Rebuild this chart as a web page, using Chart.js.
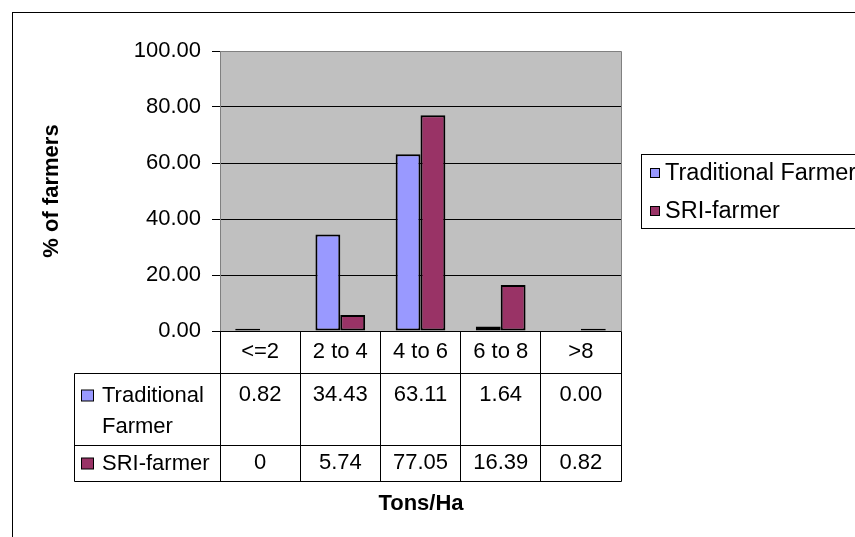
<!DOCTYPE html>
<html>
<head>
<meta charset="utf-8">
<script src="https://cdn.jsdelivr.net/npm/chart.js@4.4.1/dist/chart.umd.min.js"></script>
<style>
  html, body { margin: 0; padding: 0; background: #fff; }
  #wrap { width: 855px; height: 537px; position: relative; }
</style>
</head>
<body>
<div id="wrap"><canvas id="c" width="855" height="537"></canvas></div>
<script>
// Yield classes (tons per hectare) and share of farmers in each class
const categories = ['<=2', '2 to 4', '4 to 6', '6 to 8', '>8'];
const traditional = [0.82, 34.43, 63.11, 1.64, 0.00];
const sri = [0, 5.74, 77.05, 16.39, 0.82];
const seriesNames = ['Traditional Farmer', 'SRI-farmer'];
const yMin = 0, yMax = 100, yStep = 20;
const yTitle = '% of farmers';
const xTitle = 'Tons/Ha';

const FONT = '"Liberation Sans", Arial, sans-serif';
const colors = ['#9999FF', '#993366'];

// number formats used in the data table rows
const formats = [v => v.toFixed(2), v => String(v)];

const frame = {
  id: 'frame',
  beforeDraw(chart) {
    const ctx = chart.ctx, a = chart.chartArea;
    ctx.save();
    ctx.fillStyle = '#fff';
    ctx.fillRect(0, 0, chart.width, chart.height);
    // outer chart border
    ctx.strokeStyle = '#000';
    ctx.lineWidth = 1;
    ctx.strokeRect(12.5, 12.5, 1000, 1000);
    // plot background
    ctx.fillStyle = '#C0C0C0';
    ctx.fillRect(a.left, a.top, a.right - a.left, a.bottom - a.top);
    ctx.restore();
  },
  beforeDatasetsDraw(chart) {
    const ctx = chart.ctx, a = chart.chartArea;
    ctx.save();
    ctx.strokeStyle = '#808080';
    ctx.lineWidth = 1;
    ctx.beginPath();
    ctx.moveTo(a.left, Math.floor(a.top) + 0.5);
    ctx.lineTo(Math.floor(a.right) + 0.5, Math.floor(a.top) + 0.5);
    ctx.lineTo(Math.floor(a.right) + 0.5, a.bottom);
    ctx.stroke();
    ctx.restore();
  },
  afterDraw(chart) {
    const ctx = chart.ctx, a = chart.chartArea, xs = chart.scales.x;
    const n = categories.length;
    const cw = (xs.right - xs.left) / n;
    const tableLeft = 74.5;
    const top = Math.floor(a.bottom) + 0.5;
    const rowTops = [top, 373.5, 445.5];
    const bottom = 481.5;
    const series = [traditional, sri];

    ctx.save();
    ctx.strokeStyle = '#000';
    ctx.lineWidth = 1;
    ctx.beginPath();
    // horizontal rules
    ctx.moveTo(a.left, top); ctx.lineTo(xs.right + 0.5, top);
    for (const y of [rowTops[1], rowTops[2], bottom]) {
      ctx.moveTo(tableLeft, y); ctx.lineTo(Math.floor(xs.right) + 0.5, y);
    }
    // vertical rules
    ctx.moveTo(tableLeft, rowTops[1]); ctx.lineTo(tableLeft, bottom);
    for (let i = 0; i <= n; i++) {
      const x = Math.floor(xs.left + i * cw) + 0.5;
      ctx.moveTo(x, top); ctx.lineTo(x, bottom);
    }
    ctx.stroke();

    ctx.fillStyle = '#000';
    ctx.font = '22px ' + FONT;
    ctx.textAlign = 'center';
    ctx.textBaseline = 'middle';
    // category header row
    categories.forEach((c, i) => ctx.fillText(c, xs.getPixelForValue(i), 352));
    // value rows
    const valueY = [395, 463];
    series.forEach((vals, s) => {
      vals.forEach((v, i) => ctx.fillText(formats[s](v), xs.getPixelForValue(i), valueY[s]));
    });

    // row labels with legend keys
    ctx.textAlign = 'left';
    const labelX = 102, maxW = a.left - labelX - 4;
    seriesNames.forEach((name, s) => {
      const words = name.split(' ');
      const lines = [];
      let cur = '';
      for (const w of words) {
        const t = cur ? cur + ' ' + w : w;
        if (cur && ctx.measureText(t).width > maxW) { lines.push(cur); cur = w; } else cur = t;
      }
      lines.push(cur);
      lines.forEach((l, k) => ctx.fillText(l, labelX, valueY[s] + 1 + k * 31));
      ctx.fillStyle = colors[s];
      ctx.fillRect(81.5, valueY[s] - 5, 12, 11);
      ctx.strokeRect(81.5, valueY[s] - 5, 12, 11);
      ctx.fillStyle = '#000';
    });

    // legend box
    ctx.strokeRect(641.5, 154.5, 400, 74);
    ctx.font = '23.5px ' + FONT;
    const legY = [173, 211];
    seriesNames.forEach((name, s) => {
      ctx.fillStyle = colors[s];
      ctx.fillRect(650.5, legY[s] - 4.5, 9, 9);
      ctx.strokeRect(650.5, legY[s] - 4.5, 9, 9);
      ctx.fillStyle = '#000';
      ctx.fillText(name, 665, legY[s] + 1);
    });

    // axis titles
    ctx.font = 'bold 22px ' + FONT;
    ctx.textAlign = 'center';
    ctx.fillText(xTitle, 421, 504);
    ctx.translate(52, 191);
    ctx.rotate(-Math.PI / 2);
    ctx.fillText(yTitle, 0, 0);
    ctx.restore();
  }
};

new Chart(document.getElementById('c'), {
  type: 'bar',
  data: {
    labels: categories,
    datasets: [
      { label: seriesNames[0], data: traditional, backgroundColor: colors[0], borderColor: '#000', borderWidth: 2, borderSkipped: false },
      { label: seriesNames[1], data: sri, backgroundColor: colors[1], borderColor: '#000', borderWidth: 2, borderSkipped: false }
    ]
  },
  options: {
    responsive: false,
    animation: false,
    devicePixelRatio: 1,
    layout: { padding: { left: 0, top: 51, right: 234, bottom: 206 } },
    datasets: { bar: { categoryPercentage: 0.62, barPercentage: 1 } },
    plugins: { legend: { display: false }, tooltip: { enabled: false } },
    scales: {
      x: { display: false, offset: true },
      y: {
        min: yMin, max: yMax,
        afterFit(scale) { scale.width = 220; },
        ticks: {
          stepSize: yStep, padding: 11, color: '#000',
          font: { family: FONT, size: 22 },
          callback: v => Number(v).toFixed(2)
        },
        grid: { color: '#000', lineWidth: 1, tickLength: 8, tickColor: '#000', drawTicks: true },
        border: { display: true, color: '#808080' }
      }
    }
  },
  plugins: [frame]
});
</script>
</body>
</html>
